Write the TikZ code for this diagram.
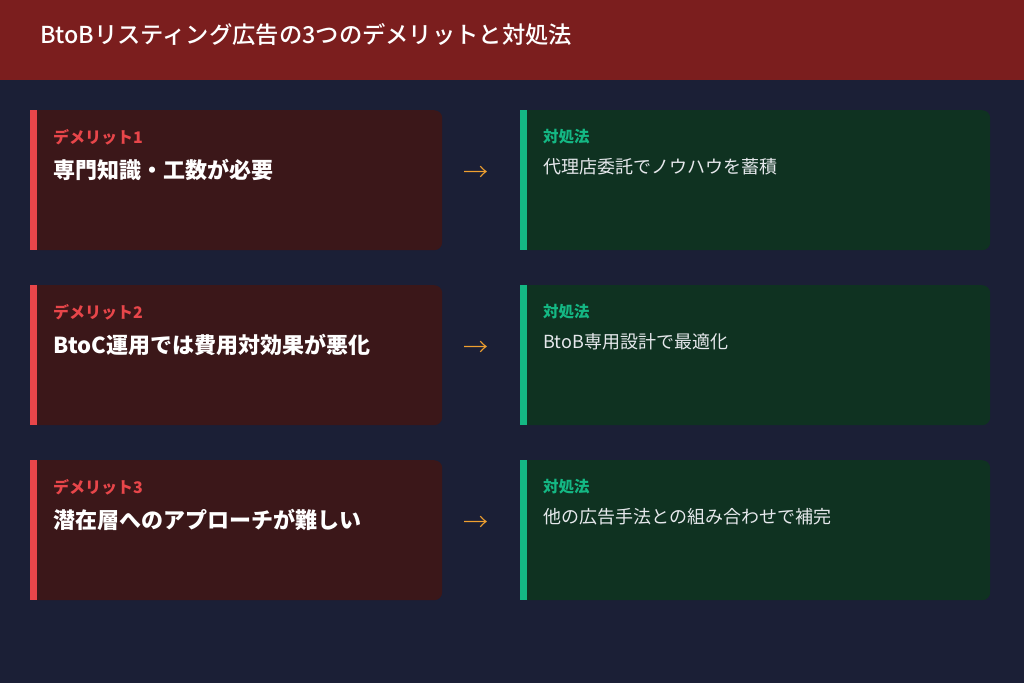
\documentclass[tikz,border=0pt]{standalone}
\usepackage{fontspec}
\setmainfont{Noto Sans CJK JP}
\IfFontExistsTF{Noto Sans CJK JP Medium}
  {\newfontfamily\titlefont{Noto Sans CJK JP Medium}}
  {\newfontfamily\titlefont{Noto Sans CJK JP}[UprightFont=*, BoldFont=*]\let\oldtitlefont\titlefont\def\titlefont{\oldtitlefont\bfseries}}
\IfFontExistsTF{Noto Sans CJK JP Light}
  {\newfontfamily\arrowfont{Noto Sans CJK JP Light}}
  {\newfontfamily\arrowfont{Noto Sans CJK JP}}
\usetikzlibrary{positioning}
\definecolor{bgnavy}{HTML}{1B1F36}
\definecolor{headred}{HTML}{7B1E1E}
\definecolor{badfill}{HTML}{3B1719}
\definecolor{badline}{HTML}{E8464A}
\definecolor{goodfill}{HTML}{0F3221}
\definecolor{goodline}{HTML}{14B884}
\definecolor{arroworange}{HTML}{F0A030}
\definecolor{softwhite}{HTML}{E6E8EC}
\tikzset{
  badbox/.style={fill=badfill, rounded corners=8pt, minimum width=412pt, minimum height=140pt, anchor=north west, inner sep=0pt},
  goodbox/.style={fill=goodfill, rounded corners=8pt, minimum width=470pt, minimum height=140pt, anchor=north west, inner sep=0pt},
  badlab/.style={anchor=west, inner sep=0pt, text=badline, font=\fontsize{16}{19}\selectfont\bfseries},
  badtxt/.style={anchor=west, inner sep=0pt, text=white, font=\fontsize{22}{26}\selectfont\bfseries},
  goodlab/.style={anchor=west, inner sep=0pt, text=goodline, font=\fontsize{15.5}{18}\selectfont\bfseries},
  goodtxt/.style={anchor=west, inner sep=0pt, text=softwhite, font=\fontsize{18}{22}\selectfont},
  goarrow/.style={inner sep=0pt, text=arroworange, font=\fontsize{25}{28}\arrowfont}
}
\begin{document}
\begin{tikzpicture}[x=1pt,y=-1pt]
\fill [bgnavy] (0,0) rectangle (1024,683);
\fill [headred] (0,0) rectangle (1024,80);
\node [anchor=west, inner sep=0pt, text=white, font=\fontsize{23.3}{27}\titlefont] (title) at (40,35) {BtoBリスティング広告の3つのデメリットと対処法};
% row 1
\node [badbox] (bad1) at (30,110) {};
\fill [badline] (bad1.north west) rectangle ++(7,140);
\node [badlab] (bad1lab) at (53,137) {デメリット1};
\node [badtxt] (bad1txt) at (53,170) {専門知識・工数が必要};
\node [goarrow] (go1) at (476,174) {→};
\node [goodbox] (good1) at (520,110) {};
\fill [goodline] (good1.north west) rectangle ++(7,140);
\node [goodlab] (good1lab) at (543,137) {対処法};
\node [goodtxt] (good1txt) at (543,167) {代理店委託でノウハウを蓄積};
% row 2
\node [badbox] (bad2) at (30,285) {};
\fill [badline] (bad2.north west) rectangle ++(7,140);
\node [badlab] (bad2lab) at (53,312) {デメリット2};
\node [badtxt] (bad2txt) at (53,345) {BtoC運用では費用対効果が悪化};
\node [goarrow] (go2) at (476,349) {→};
\node [goodbox] (good2) at (520,285) {};
\fill [goodline] (good2.north west) rectangle ++(7,140);
\node [goodlab] (good2lab) at (543,312) {対処法};
\node [goodtxt] (good2txt) at (543,342) {BtoB専用設計で最適化};
% row 3
\node [badbox] (bad3) at (30,460) {};
\fill [badline] (bad3.north west) rectangle ++(7,140);
\node [badlab] (bad3lab) at (53,487) {デメリット3};
\node [badtxt] (bad3txt) at (53,520) {潜在層へのアプローチが難しい};
\node [goarrow] (go3) at (476,524) {→};
\node [goodbox] (good3) at (520,460) {};
\fill [goodline] (good3.north west) rectangle ++(7,140);
\node [goodlab] (good3lab) at (543,487) {対処法};
\node [goodtxt] (good3txt) at (543,517) {他の広告手法との組み合わせで補完};
\end{tikzpicture}
\end{document}
